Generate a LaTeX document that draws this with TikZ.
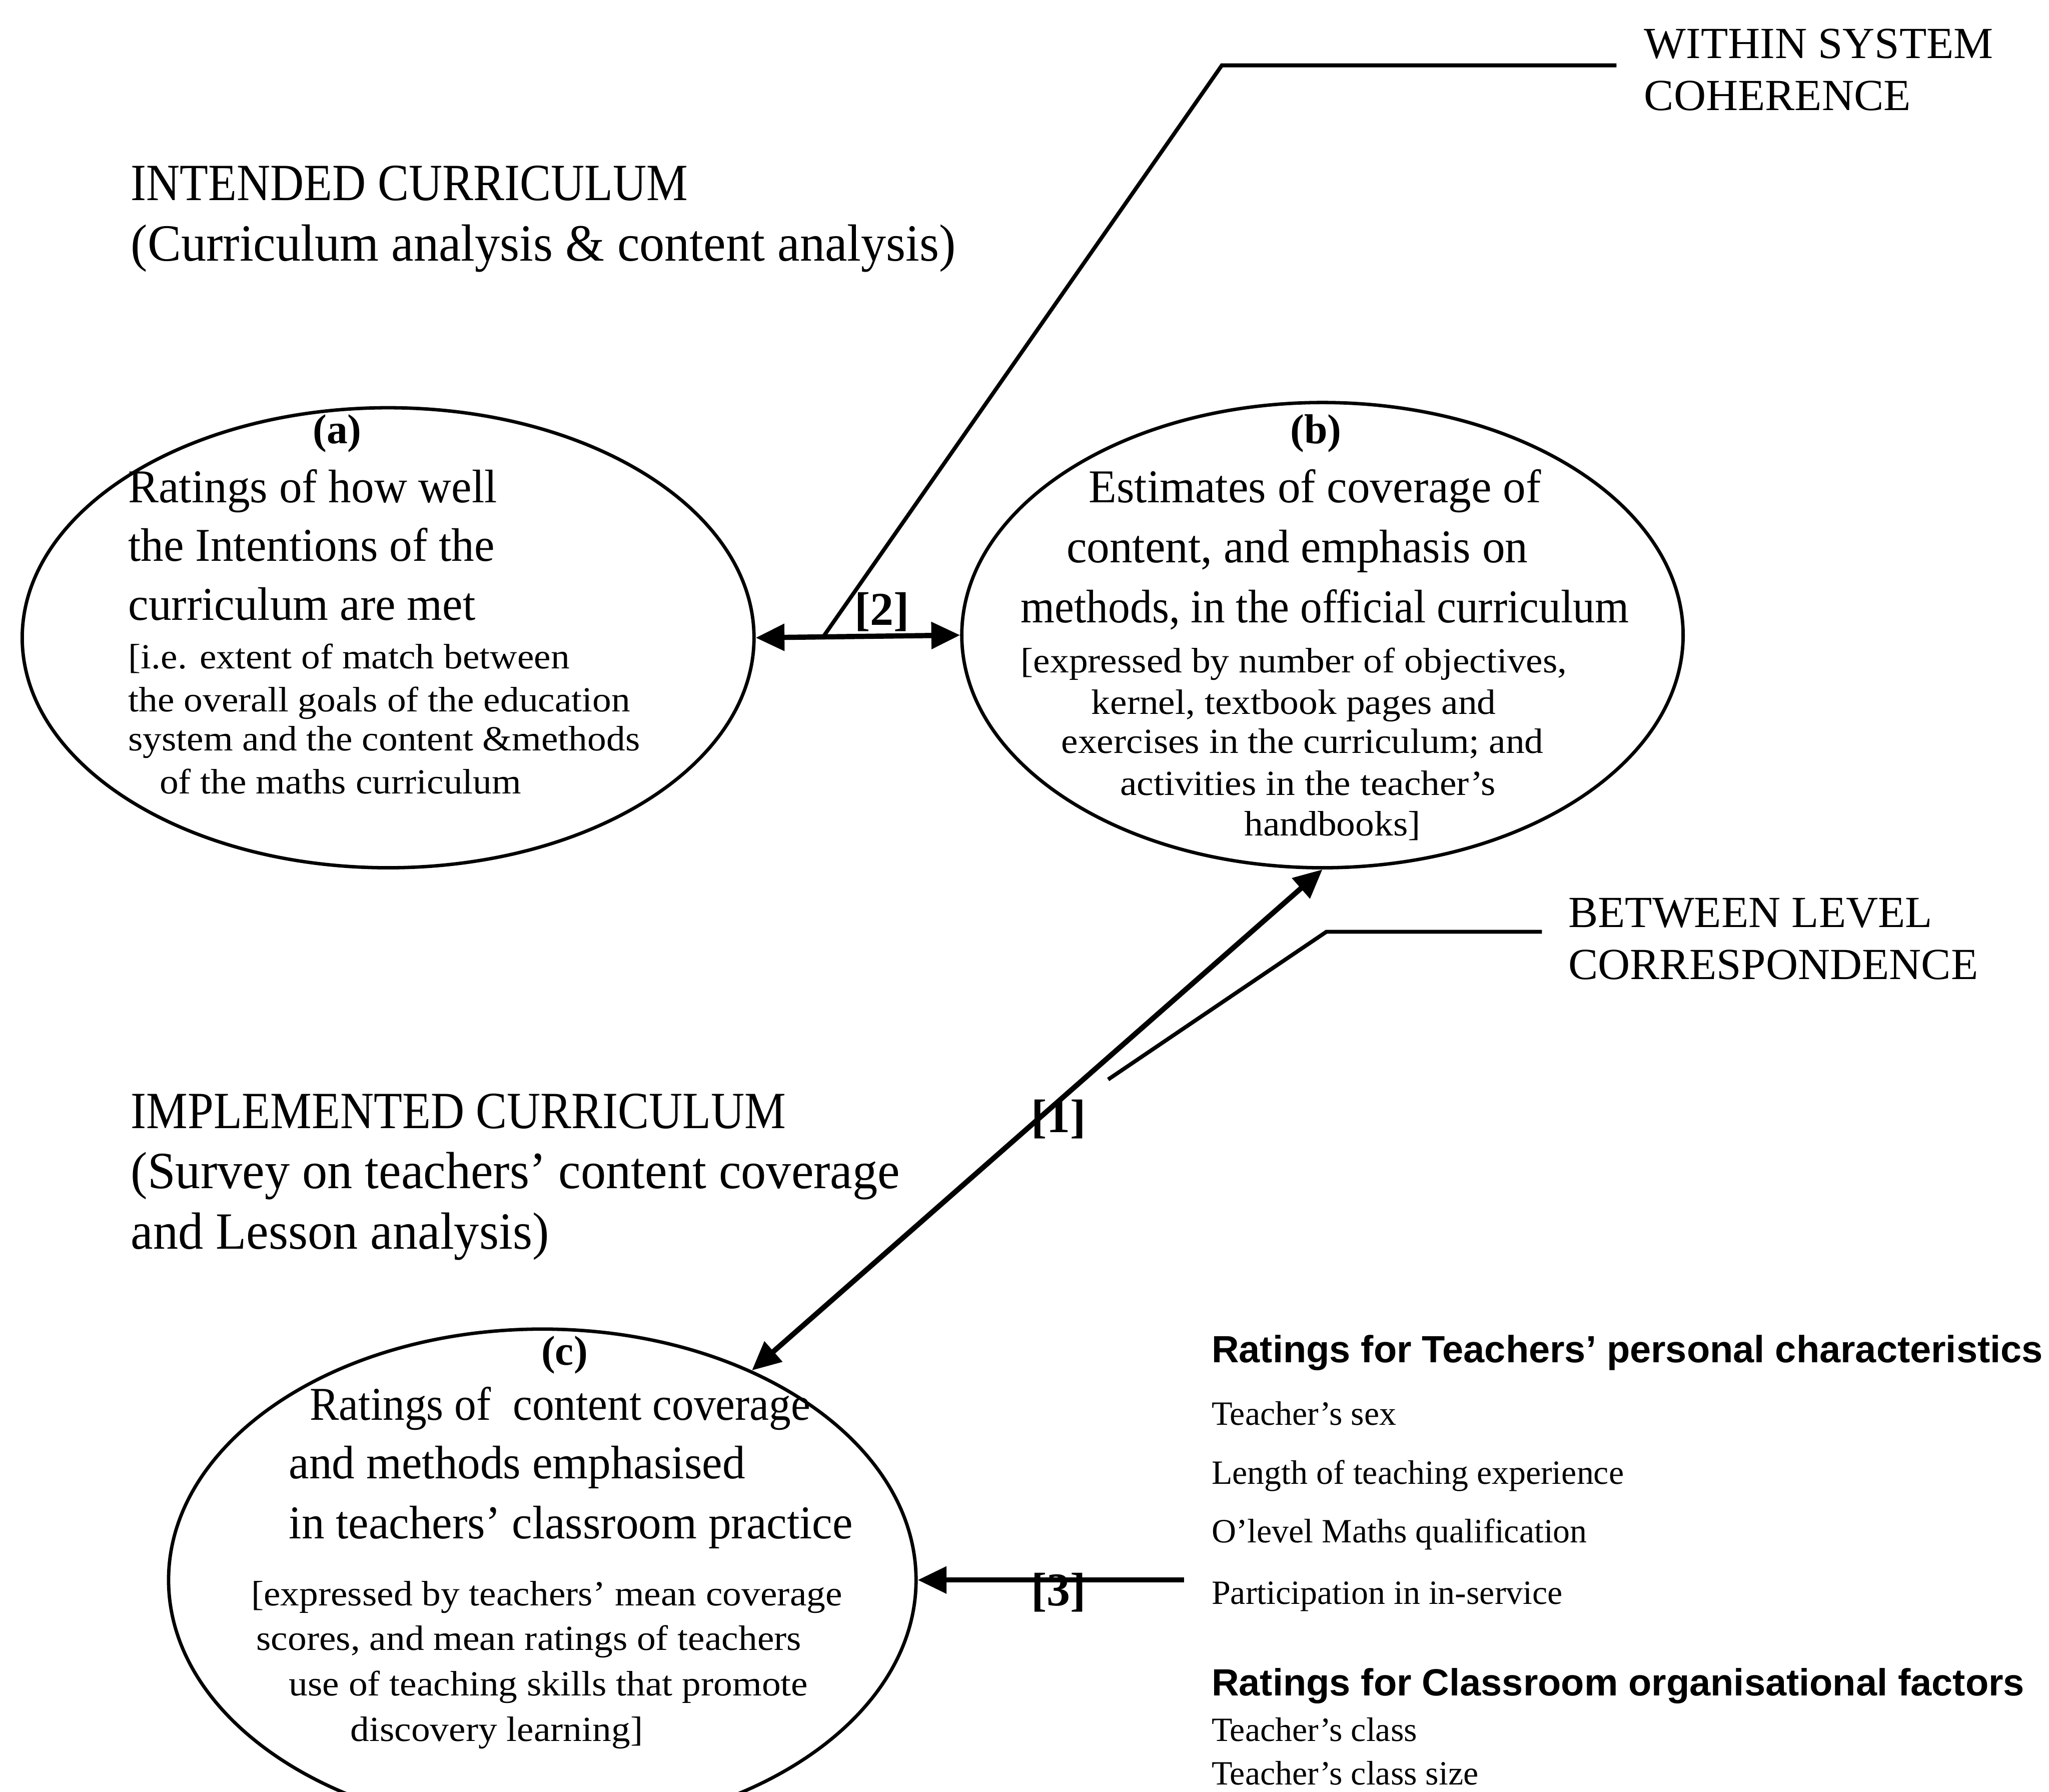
\documentclass[tikz,border=0pt]{standalone}
\usepackage{fontspec}
\setmainfont{Liberation Serif}
\setsansfont{Liberation Sans}
\newfontfamily\capsF[FakeStretch=0.89]{Liberation Serif}
\newfontfamily\titleF[FakeStretch=0.96]{Liberation Serif}
\newfontfamily\midF[FakeStretch=0.97]{Liberation Serif}
\newfontfamily\midN[FakeStretch=0.93]{Liberation Serif}
\newfontfamily\smallF[FakeStretch=1.07]{Liberation Serif}
\usetikzlibrary{arrows.meta,calc,shapes.geometric}
\begin{document}
\begin{tikzpicture}[x=1pt,y=-1pt,
  txt/.style={anchor=west,inner sep=0pt,text height=0.7em,text depth=0.2em,yshift=-9pt},
  bigc/.style={txt,font=\fontsize{40}{46}\capsF},
  big/.style={txt,font=\fontsize{40}{46}\titleF},
  mid/.style={txt,font=\fontsize{36}{44}\midF},
  midn/.style={txt,font=\fontsize{36}{44}\midN},
  small/.style={txt,font=\fontsize{27}{30}\smallF},
  lbl/.style={txt,anchor=center,font=\fontsize{32}{36}\selectfont\bfseries},
  num/.style={txt,anchor=center,font=\fontsize{36}{40}\selectfont\bfseries},
  caps/.style={txt,font=\fontsize{34}{38}\selectfont},
  head/.style={txt,font=\fontsize{29}{32}\selectfont\sffamily\bfseries},
  item/.style={txt,font=\fontsize{26}{30}\selectfont},
  oval/.style={ellipse,draw,line width=2.6pt,inner sep=0pt},
  conn/.style={line width=4pt},
  lead/.style={line width=3pt},
  tip/.style={-{Triangle[length=22pt,width=20pt]}},
  tips/.style={{Triangle[length=22pt,width=20pt]}-{Triangle[length=22pt,width=20pt]}}
]
\useasboundingbox (0,0) rectangle (1568,1371);

% ellipses
\node[oval,minimum width=560pt,minimum height=352pt] (a) at (297,488) {};
\node[oval,minimum width=552pt,minimum height=356pt] (b) at (1012,486) {};
\node[oval,minimum width=572pt,minimum height=384pt] (c) at (415,1209) {};

% titles
\node[bigc] (t1) at (100,142) {INTENDED CURRICULUM};
\node[big] (t2) at (100,188) {(Curriculum analysis \& content analysis)};
\node[bigc] (t3) at (100,852) {IMPLEMENTED CURRICULUM};
\node[big] (t4) at (100,898) {(Survey on teachers’ content coverage};
\node[big] (t5) at (100,944) {and Lesson analysis)};

% (a) text
\node[lbl] (la) at (258,328) {(a)};
\node[mid] (a1) at (98,373) {Ratings of how well};
\node[mid] (a2) at (98,418) {the Intentions of the};
\node[mid] (a3) at (98,463) {curriculum are met};
\node[small] (a4) at (98,500) {[i.e. extent of match between};
\node[small] (a5) at (98,533) {the overall goals of the education};
\node[small] (a6) at (98,563) {system and the content \&methods};
\node[small] (a7) at (122,596) {of the maths curriculum};

% (b) text
\node[lbl] (lb) at (1007,328) {(b)};
\node[mid] (b1) at (833,373) {Estimates of coverage of};
\node[mid] (b2) at (816,419) {content, and emphasis on};
\node[midn] (b3) at (781,465) {methods, in the official curriculum};
\node[small] (b4) at (781,503) {[expressed by number of objectives,};
\node[small] (b5) at (835,535) {kernel, textbook pages and};
\node[small] (b6) at (812,565) {exercises in the curriculum; and};
\node[small] (b7) at (857,597) {activities in the teacher’s};
\node[small] (b8) at (952,628) {handbooks]};

% (c) text
\node[lbl] (lc) at (432,1033) {(c)};
\node[midn] (c1) at (237,1075) {Ratings of \ content coverage};
\node[mid] (c2) at (221,1120) {and methods emphasised};
\node[mid] (c3) at (221,1166) {in teachers’ classroom practice};
\node[small] (c4) at (192,1217) {[expressed by teachers’ mean coverage};
\node[small] (c5) at (196,1251) {scores, and mean ratings of teachers};
\node[small] (c6) at (221,1286) {use of teaching skills that promote};
\node[small] (c7) at (268,1321) {discovery learning]};

% right labels
\node[caps] (w1) at (1258,33) {WITHIN SYSTEM};
\node[caps] (w2) at (1258,73) {COHERENCE};
\node[caps] (v1) at (1200,698) {BETWEEN LEVEL};
\node[caps] (v2) at (1200,738) {CORRESPONDENCE};

\node[head] (h1) at (927,1031) {Ratings for Teachers’ personal characteristics};
\node[item] (i1) at (927,1079) {Teacher’s sex};
\node[item] (i2) at (927,1124) {Length of teaching experience};
\node[item] (i3) at (927,1169) {O’level Maths qualification};
\node[item] (i4) at (927,1216) {Participation in in-service};
\node[head] (h2) at (927,1286) {Ratings for Classroom organisational factors};
\node[item] (i5) at (927,1321) {Teacher’s class};
\node[item] (i6) at (927,1354) {Teacher’s class size};

% connectors
\draw[conn,tips] (a.east) -- (b.west) coordinate[pos=0.33] (j2);
\coordinate (w0) at (935,50);
\coordinate (w3) at (1237,50);
\draw[lead] (j2) -- (w0) -- (w3);
\node[num] (n2) at (675,467) {[2]};

\draw[conn,tips] (c.45) -- (b.south);
\node[num] (n1) at (810,855) {[1]};
\coordinate (v0) at (848,826);
\coordinate (v3) at (1015,713);
\coordinate (v4) at (1180,713);
\draw[lead] (v0) -- (v3) -- (v4);

\coordinate (s3) at (906,1209);
\draw[conn,tip] (s3) -- (c.east);
\node[num] (n3) at (810,1217) {[3]};
\end{tikzpicture}
\end{document}
